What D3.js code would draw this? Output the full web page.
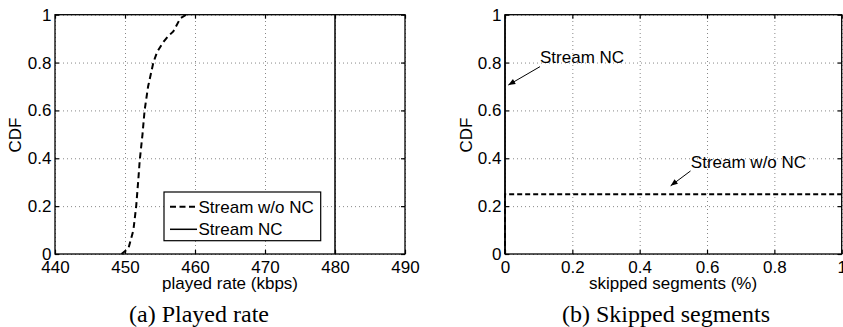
<!DOCTYPE html>
<html><head><meta charset="utf-8">
<script src="https://cdn.jsdelivr.net/npm/d3@7/dist/d3.min.js"></script>
<style>
body{margin:0;background:#fff}
svg{display:block;background:#fff}
text{font-family:"Liberation Sans",Arial,Helvetica,sans-serif;fill:#000}
.cap{font-family:"Liberation Serif","Times New Roman",serif}
</style>
</head><body>
<svg id="c" width="843" height="327"></svg>
<script>
// ---------- data ----------
const rateTicks = [440, 450, 460, 470, 480, 490];
const cdfTicks = [0, 0.2, 0.4, 0.6, 0.8, 1];
const skipTicks = [0, 0.2, 0.4, 0.6, 0.8, 1];
const seriesNames = ["Stream w/o NC", "Stream NC"];

// (a) played rate CDF
const rateWoNC = [449.5, 450.5, 451.2, 451.6, 451.9, 452.1, 452.5, 452.8, 453.3, 454.05, 454.6, 455.5, 456.2, 456.9, 457.9, 458.7, 459.2];
const cdfRateWoNC = [0, 0.024, 0.1, 0.2, 0.31, 0.39, 0.5, 0.6, 0.7, 0.8, 0.845, 0.887, 0.911, 0.93, 0.985, 0.999, 1];
const rateNC = [480, 480];
const cdfRateNC = [0, 1];

// (b) skipped segments CDF
const skipWoNC = [0, 0, 1];
const cdfSkipWoNC = [0, 0.25, 0.25];
const skipNC = [0, 0];
const cdfSkipNC = [0, 1];

// annotations in (b)
const annLabels = ["Stream NC", "Stream w/o NC"];
const annTextX = [0.104, 0.552];
const annTextY = [0.822, 0.386];
const annFromX = [0.104, 0.551];
const annFromY = [0.783, 0.347];
const annToX = [0.0098, 0.492];
const annToY = [0.706, 0.285];

const captions = ["(a) Played rate", "(b) Skipped segments"];
const xLabels = ["played rate (kbps)", "skipped segments (%)"];

// ---------- drawing ----------
const svg = d3.select("#c");
svg.append("rect").attr("width", 843).attr("height", 327).attr("fill", "#fff");

const defs = svg.append("defs");
defs.append("marker").attr("id", "arr")
  .attr("viewBox", "0 0 10 10").attr("refX", 10).attr("refY", 5)
  .attr("markerUnits", "userSpaceOnUse")
  .attr("markerWidth", 8).attr("markerHeight", 7).attr("orient", "auto")
  .append("path").attr("d", "M0,1 L10,5 L0,9 Z").attr("fill", "#000");

const yTop = 14.7, yBot = 254;
const fmt = d => (d === 0 || d === 1) ? String(d) : d3.format(".1f")(d);

function panel(x0, x1, xDomain, xTicks) {
  const x = d3.scaleLinear().domain(xDomain).range([x0, x1]);
  const y = d3.scaleLinear().domain([0, 1]).range([yBot, yTop]);
  const g = svg.append("g");

  // grid
  const gx = g.append("g").attr("transform", `translate(0,${yBot})`)
    .call(d3.axisBottom(x).tickValues(xTicks).tickSize(-(yBot - yTop)).tickFormat(""));
  const gy = g.append("g").attr("transform", `translate(${x0},0)`)
    .call(d3.axisLeft(y).tickValues(cdfTicks).tickSize(-(x1 - x0)).tickFormat(""));
  [gx, gy].forEach(a => {
    a.select(".domain").remove();
    a.selectAll("line").attr("stroke", "#888").attr("stroke-width", 1).attr("stroke-dasharray", "1,3");
  });
  return {x, y, g};
}

function frame(p, xTicks, xFmt) {
  const {x, y, g} = p;
  const [x0, x1] = x.range();
  const ax = g.append("g");
  const b = ax.append("g").attr("transform", `translate(0,${yBot})`)
    .call(d3.axisBottom(x).tickValues(xTicks).tickSize(-4).tickPadding(7).tickFormat(xFmt));
  const t = ax.append("g").attr("transform", `translate(0,${yTop})`)
    .call(d3.axisTop(x).tickValues(xTicks).tickSize(-4).tickFormat(""));
  const l = ax.append("g").attr("transform", `translate(${x0},0)`)
    .call(d3.axisLeft(y).tickValues(cdfTicks).tickSize(-4).tickPadding(3.5).tickFormat(fmt));
  const r = ax.append("g").attr("transform", `translate(${x1},0)`)
    .call(d3.axisRight(y).tickValues(cdfTicks).tickSize(-4).tickFormat(""));
  [b, t, l, r].forEach(a => {
    a.select(".domain").remove();
    a.selectAll("line").attr("stroke", "#000").attr("stroke-width", 1.2);
    a.selectAll("text").attr("font-size", 17).attr("font-family", '"Liberation Sans",Arial,sans-serif').attr("fill", "#000");
  });
  ax.append("rect").attr("x", x0).attr("y", yTop).attr("width", x1 - x0).attr("height", yBot - yTop)
    .attr("fill", "none").attr("stroke", "#000").attr("stroke-width", 1.3);
}

const line = (p) => d3.line().x(d => p.x(d[0])).y(d => p.y(d[1]));

// ---- panel (a)
const pa = panel(55, 405, [440, 490], rateTicks);
pa.g.append("path").datum(d3.zip(rateWoNC, cdfRateWoNC)).attr("d", line(pa))
  .attr("fill", "none").attr("stroke", "#000").attr("stroke-width", 2).attr("stroke-dasharray", "6,4");
pa.g.append("path").datum(d3.zip(rateNC, cdfRateNC)).attr("d", line(pa))
  .attr("fill", "none").attr("stroke", "#000").attr("stroke-width", 1.5);
frame(pa, rateTicks, d3.format("d"));

// legend
const lg = svg.append("g").attr("transform", "translate(164,192)");
lg.append("rect").attr("width", 156.7).attr("height", 48.7).attr("fill", "#fff").attr("stroke", "#000").attr("stroke-width", 1.2);
seriesNames.forEach((n, i) => {
  const yy = 14.7 + i * 22.6;
  lg.append("line").attr("x1", 6).attr("x2", 33).attr("y1", yy).attr("y2", yy)
    .attr("stroke", "#000").attr("stroke-width", i === 0 ? 2 : 1.5)
    .attr("stroke-dasharray", i === 0 ? "6,3.5" : null);
  lg.append("text").attr("x", 34.5).attr("y", yy).attr("dy", "0.35em").attr("font-size", 17).text(n);
});

// ---- panel (b)
const pb = panel(505, 841.7, [0, 1], skipTicks);
pb.g.append("path").datum(d3.zip(skipWoNC, cdfSkipWoNC)).attr("d", line(pb))
  .attr("fill", "none").attr("stroke", "#000").attr("stroke-width", 2).attr("stroke-dasharray", "5,3");
pb.g.append("path").datum(d3.zip(skipNC, cdfSkipNC)).attr("d", line(pb))
  .attr("fill", "none").attr("stroke", "#000").attr("stroke-width", 1.5);
frame(pb, skipTicks, fmt);

annLabels.forEach((n, i) => {
  svg.append("text").attr("x", pb.x(annTextX[i])).attr("y", pb.y(annTextY[i])).attr("dy", "0.35em")
    .attr("font-size", 17).text(n);
  svg.append("line").attr("x1", pb.x(annFromX[i])).attr("y1", pb.y(annFromY[i]))
    .attr("x2", pb.x(annToX[i])).attr("y2", pb.y(annToY[i]))
    .attr("stroke", "#000").attr("stroke-width", 1).attr("marker-end", "url(#arr)");
});

// axis titles
[[pa, 230, 15], [pb, 673, 465.5]].forEach(([p, cx, ly], i) => {
  svg.append("text").attr("x", cx).attr("y", 289).attr("text-anchor", "middle").attr("font-size", 17).text(xLabels[i]);
  svg.append("text").attr("transform", `translate(${ly},135) rotate(-90)`).attr("text-anchor", "middle")
    .attr("dy", "0.36em").attr("font-size", 17).text("CDF");
});

// captions
[199, 666].forEach((cx, i) => {
  svg.append("text").attr("class", "cap").attr("x", cx).attr("y", 322).attr("text-anchor", "middle")
    .attr("font-size", 24).attr("font-family", '"Liberation Serif",serif').text(captions[i]);
});
</script>
</body></html>
